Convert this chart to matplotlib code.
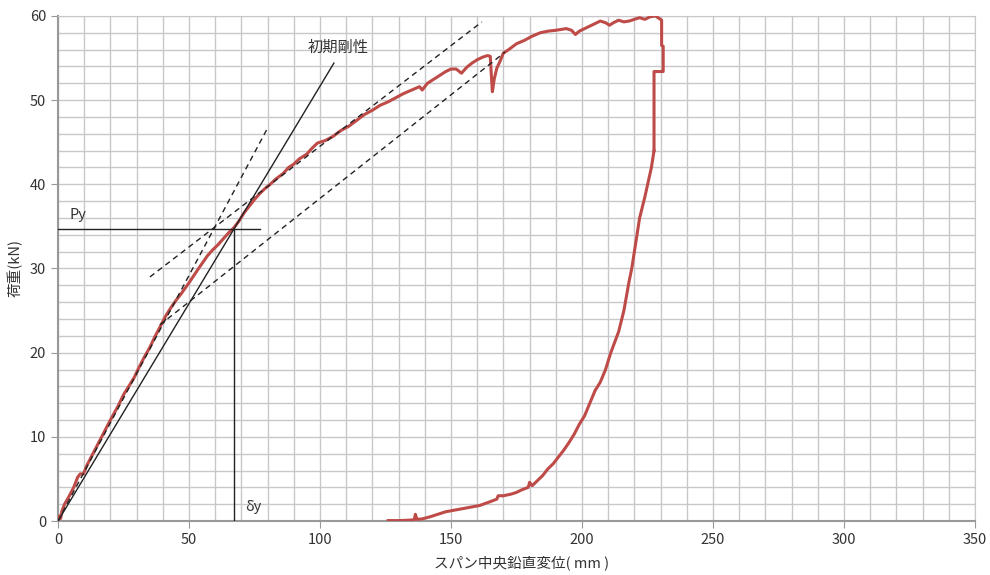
import matplotlib
matplotlib.use("Agg")
import matplotlib.pyplot as plt
import numpy as np
from matplotlib.ticker import MultipleLocator

plt.rcParams['font.family'] = ['Noto Sans CJK JP', 'DejaVu Sans']

# 荷重-変位曲線 (載荷)
load_x = [0, 0.5, 1, 1.5, 2.5, 4, 6, 7.5, 8.5, 9.7, 11, 14, 17, 20, 23, 25, 27, 29, 31, 33,
          35, 37, 39, 41, 43, 45, 47, 50, 53, 55, 57, 59, 61, 63, 65, 67, 69, 71, 73, 75,
          77, 79, 81, 83, 86, 88, 90, 92, 95, 97, 99, 102, 105, 108, 111, 114, 117, 120, 123, 126,
          129, 132, 135, 138, 139, 141, 144, 146, 148, 150, 152, 154, 156, 158, 160, 162, 164, 165,
          165.3, 165.8, 166.5, 167.5, 168.7, 170, 172, 175, 178, 181, 184, 187, 190, 192, 194, 196,
          197.5, 199, 201, 203, 205, 207, 209, 210.5, 212, 214, 216, 218, 220, 222, 224, 226,
          228, 229.5, 230.4, 230.4, 231, 231, 227.5, 227.5]
load_y = [0, 0.6, 0.3, 1.2, 2.0, 2.8, 4.0, 5.2, 5.6, 5.6, 6.6, 8.4, 10.2, 12.0, 13.7, 15.0, 16.0, 17.0, 18.3, 19.5,
          20.6, 21.9, 23.1, 24.3, 25.3, 26.2, 27.0, 28.3, 29.7, 30.6, 31.5, 32.2, 32.8, 33.5, 34.2, 34.8, 35.6, 36.6, 37.4, 38.2,
          38.9, 39.5, 40.0, 40.6, 41.3, 42.0, 42.4, 43.0, 43.6, 44.3, 44.9, 45.2, 45.7, 46.4, 46.9, 47.6, 48.3, 48.8, 49.4, 49.8,
          50.3, 50.8, 51.2, 51.6, 51.2, 52.0, 52.6, 53.0, 53.4, 53.7, 53.7, 53.2, 53.9, 54.4, 54.8, 55.1, 55.3, 55.2,
          53.5, 51.0, 52.5, 53.8, 54.6, 55.6, 56.0, 56.7, 57.1, 57.6, 58.0, 58.2, 58.3, 58.4, 58.5, 58.3,
          57.8, 58.2, 58.5, 58.8, 59.1, 59.4, 59.2, 58.9, 59.2, 59.5, 59.3, 59.4, 59.6, 59.8, 59.6, 59.9,
          60.0, 59.7, 59.5, 56.5, 56.4, 53.4, 53.4, 44.0]

# 除荷
unload_x = [227.5, 226.5, 224, 222, 220.5, 219, 218, 216, 214, 211, 209, 207, 205, 203, 201, 199,
            197, 195, 193, 191, 189, 187, 185, 183, 181, 180, 179.5, 177, 175, 173, 170, 168, 167.5,
            165, 161, 155, 148, 142, 139, 137, 136.4, 136, 134, 130, 126]
unload_y = [44.0, 42.0, 38.5, 36.0, 33.0, 30.0, 28.5, 25.0, 22.5, 20.0, 18.0, 16.5, 15.5, 14.0, 12.5, 11.5,
            10.3, 9.3, 8.4, 7.6, 6.8, 6.2, 5.4, 4.8, 4.2, 4.6, 4.0, 3.7, 3.4, 3.2, 3.0, 3.0, 2.6,
            2.3, 1.85, 1.5, 1.1, 0.5, 0.25, 0.2, 0.8, 0.15, 0.1, 0.05, 0.05]

# 補助線
stiff_x = [0, 105.3]
stiff_y = [0, 54.4]
tan1_x = [0, 80.2]
tan1_y = [0, 46.8]
tan2_x = [35.1, 161.8]
tan2_y = [29.0, 59.3]
tan3_x = [38.9, 170.6]
tan3_y = [23.3, 55.7]
Py = 34.7
dy = 67.2

fig = plt.figure(figsize=(9.9, 5.75), dpi=100)
ax = fig.add_axes([0.0586, 0.0939, 0.9262, 0.8783])

red = '#BE4B48'
ax.plot(load_x, load_y, color=red, lw=2.2, zorder=3)
ax.plot(unload_x, unload_y, color=red, lw=2.2, zorder=3)

ax.plot(stiff_x, stiff_y, color='#222222', lw=1.0, zorder=4)
for xs, ys in [(tan1_x, tan1_y), (tan2_x, tan2_y), (tan3_x, tan3_y)]:
    ax.plot(xs, ys, color='#222222', lw=1.0, ls=(0, (4, 3)), zorder=4)
ax.plot([0, 77], [Py, Py], color='#222222', lw=1.0, zorder=4)
ax.plot([dy, dy], [0, Py], color='#222222', lw=1.0, zorder=4)

ax.text(106.9, 56.3, '初期剛性', ha='center', va='center', fontsize=11, color='#333333')
ax.text(7.6, 36.3, 'Py', ha='center', va='center', fontsize=10.5, color='#333333')
ax.text(74.4, 1.7, 'δy', ha='center', va='center', fontsize=10.5, color='#333333')

ax.set_xlim(0, 350)
ax.set_ylim(0, 60)
ax.xaxis.set_major_locator(MultipleLocator(50))
ax.yaxis.set_major_locator(MultipleLocator(10))
ax.xaxis.set_minor_locator(MultipleLocator(10))
ax.yaxis.set_minor_locator(MultipleLocator(2))
ax.grid(True, which='both', color='#C8C8CC', lw=1.0, zorder=0)
ax.set_axisbelow(True)
ax.tick_params(which='major', direction='out', length=5, color='#999999', labelsize=10.5,
               labelcolor='#333333')
ax.tick_params(which='minor', length=0)
for s in ax.spines.values():
    s.set_color('#C8C8CC')
ax.spines['left'].set_color('#999999')
ax.spines['bottom'].set_color('#999999')
ax.spines['left'].set_linewidth(1.5)
ax.spines['bottom'].set_linewidth(1.5)

ax.set_xlabel('スパン中央鉛直変位( mm )', fontsize=10.5, color='#333333', labelpad=6)
ax.xaxis.label.set_x(0.506)
ax.set_ylabel('荷重(kN)', fontsize=10.5, color='#333333', labelpad=5)

fig.savefig('out.png', dpi=100)
